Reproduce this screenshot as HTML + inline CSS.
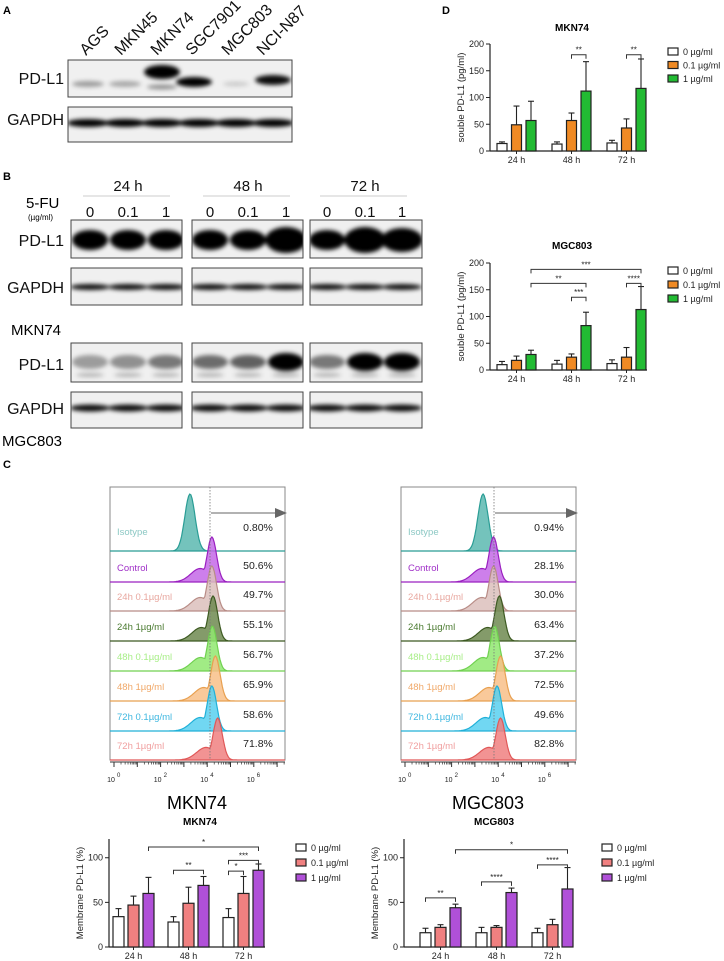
<!DOCTYPE html>
<html><head><meta charset="utf-8">
<style>
html,body{margin:0;padding:0;background:#fff;}
svg{display:block;font-family:"Liberation Sans",Arial,sans-serif;}
</style></head>
<body>
<svg id="fig" width="724" height="961" viewBox="0 0 724 961" xmlns="http://www.w3.org/2000/svg">
<defs>
<filter id="blur" x="-50%" y="-200%" width="200%" height="500%"><feGaussianBlur stdDeviation="2"/></filter>
</defs>
<rect width="724" height="961" fill="#fff"/>
<text x="3" y="14" font-size="11" font-weight="bold">A</text>
<text x="3" y="180" font-size="11" font-weight="bold">B</text>
<text x="3" y="468" font-size="11" font-weight="bold">C</text>
<text x="442" y="14" font-size="11" font-weight="bold">D</text>
<g font-size="16" fill="#111">
<text transform="translate(86,56) rotate(-45)">AGS</text>
<text transform="translate(121,56) rotate(-45)">MKN45</text>
<text transform="translate(157,56) rotate(-45)">MKN74</text>
<text transform="translate(192,56) rotate(-45)">SGC7901</text>
<text transform="translate(228,56) rotate(-45)">MGC803</text>
<text transform="translate(263,56) rotate(-45)">NCI-N87</text>
</g>
<g font-size="16" fill="#111" text-anchor="end">
<text x="64" y="84">PD-L1</text>
<text x="64" y="125">GAPDH</text>
<text x="64" y="246">PD-L1</text>
<text x="64" y="293">GAPDH</text>
<text x="64" y="370">PD-L1</text>
<text x="64" y="414">GAPDH</text>
</g>
<text x="11" y="335" font-size="15">MKN74</text>
<text x="2" y="446" font-size="15">MGC803</text>
<text x="26" y="208" font-size="15">5-FU</text>
<text x="28" y="220" font-size="8">(µg/ml)</text>
<g font-size="15" text-anchor="middle" fill="#111">
<text x="128" y="191">24 h</text><text x="248" y="191">48 h</text><text x="365" y="191">72 h</text>
</g>
<g stroke="#bbb" stroke-width="0.8">
<line x1="83" y1="196" x2="170" y2="196"/><line x1="203" y1="196" x2="290" y2="196"/><line x1="320" y1="196" x2="407" y2="196"/>
</g>
<g font-size="15" text-anchor="middle" fill="#111">
<text x="90" y="217">0</text><text x="128" y="217">0.1</text><text x="166" y="217">1</text>
<text x="210" y="217">0</text><text x="248" y="217">0.1</text><text x="286" y="217">1</text>
<text x="327" y="217">0</text><text x="365" y="217">0.1</text><text x="402" y="217">1</text>
</g>
<text x="197" y="809" font-size="18" text-anchor="middle">MKN74</text>
<text x="488" y="809" font-size="18" text-anchor="middle">MGC803</text>
</svg>
<script>
// ===== Chart data =====
const timeCats=['24 h','48 h','72 h'];
const doseLegend=['0 µg/ml','0.1 µg/ml','1 µg/ml'];
// Panel D soluble PD-L1 (pg/ml)
const mknSol0=[14,13,15], mknSol01=[49,57,43], mknSol1=[57,112,117];
const mknSolErr0=[3,4,5], mknSolErr01=[35,14,17], mknSolErr1=[36,55,55];
const mgcSol0=[10,11,12], mgcSol01=[18,24,24], mgcSol1=[29,83,113];
const mgcSolErr0=[6,7,7], mgcSolErr01=[8,6,18], mgcSolErr1=[8,25,43];
const solTicks=[0,50,100,150,200];
// Membrane PD-L1 (%)
const mknMem0=[34,28,33], mknMem01=[47,49,60], mknMem1=[60,69,86];
const mknMemErr0=[9,6,10], mknMemErr01=[10,18,19], mknMemErr1=[18,10,7];
const mgcMem0=[16,16,16], mgcMem01=[22,22,25], mgcMem1=[44,61,65];
const mgcMemErr0=[5,6,5], mgcMemErr01=[3,2,6], mgcMemErr1=[4,5,24];
const memTicks=[0,50,100];
// Flow cytometry
const flowLabels=['Isotype','Control','24h  0.1µg/ml','24h  1µg/ml','48h  0.1µg/ml','48h  1µg/ml','72h  0.1µg/ml','72h  1µg/ml'];
const mknPeaks=[3.26,4.2,4.2,4.25,4.22,4.35,4.2,4.45];
const mgcPeaks=[3.35,3.8,3.8,4.05,3.85,4.1,3.95,4.1];
const mknPct=['0.80%','50.6%','49.7%','55.1%','56.7%','65.9%','58.6%','71.8%'];
const mgcPct=['0.94%','28.1%','30.0%','63.4%','37.2%','72.5%','49.6%','82.8%'];

const NS='http://www.w3.org/2000/svg';
const svg=document.getElementById('fig');
function mk(tag,attrs,parent){const e=document.createElementNS(NS,tag);for(const k in attrs)e.setAttribute(k,attrs[k]);(parent||svg).appendChild(e);return e;}

// ===== Western blots =====
function blot(x,y,w,h,bands,name){
  const g=mk('g',{});
  
  
  const cid='c'+name;
  const cp=mk('clipPath',{id:cid},g);mk('rect',{x:x,y:y,width:w,height:h},cp);
  mk('rect',{x:x,y:y,width:w,height:h,fill:'#f0f0f0'},g);
  const bg=mk('g',{'clip-path':'url(#'+cid+')'},g);
  const inner=mk('g',{filter:'url(#blur)'},bg);
  bands.forEach(b=>{mk('ellipse',{cx:b[0],cy:b[1],rx:b[2],ry:b[3],fill:'#000','fill-opacity':b[4]},inner);});
  mk('rect',{x:x,y:y,width:w,height:h,fill:'none',stroke:'#444','stroke-width':1},g);
}
const LA=[88,125,162,199,236,273];
blot(68,60,224,37,[[88,84,16,3,0.35],[125,84,16,3,0.3],[162,72,18,7,1],[162,87,15,2.5,0.4],[194,82,18,5,1],[236,84,13,2.5,0.15],[273,80,18,5,0.95]],'blot-a-pdl1');
blot(68,107,224,35,LA.map(c=>[c,123,21,4,1]),'blot-a-gapdh');
const LB=[[90,128,166],[210,248,286],[327,365,402]];
const BX=[[71,111],[192,111],[310,112]];
const mkPd=[[1,1,1],[1,1,1.3],[1,1.3,1.2]];
const mgPd=[[0.35,0.4,0.5],[0.55,0.6,1],[0.5,1,1]];
for(let i=0;i<3;i++){
  blot(BX[i][0],220,BX[i][1],38,LB[i].map((c,j)=>[c,240,18*Math.min(mkPd[i][j],1.15),10*mkPd[i][j],1]),'blot-mkn74-pdl1-'+(i+1));
  blot(BX[i][0],268,BX[i][1],37,LB[i].map(c=>[c,287,20,3,0.95]),'blot-mkn74-gapdh-'+(i+1));
  const bands=[];LB[i].forEach((c,j)=>{bands.push([c,362,18,mgPd[i][j]>0.9?9:7,mgPd[i][j]]);bands.push([c,375,14,2,0.25]);});
  blot(BX[i][0],343,BX[i][1],39,bands,'blot-mgc803-pdl1-'+(i+1));
  blot(BX[i][0],392,BX[i][1],36,LB[i].map(c=>[c,408,20,3.5,0.95]),'blot-mgc803-gapdh-'+(i+1));
}

// ===== Bar charts =====
function barChart(o){
  const g=mk('g',{});
  
  
  const yv=v=>o.y0-(v/o.ymax)*(o.y0-o.yTop);
  const xb=(gi,si)=>o.gx+gi*o.gStep+si*o.bStep;
  const t=mk('text',{x:o.titleX,y:o.titleY,'font-size':10,'font-weight':'bold','text-anchor':'middle'},g);t.textContent=o.title;
  
  
  const ya=mk('line',{x1:o.x0,y1:o.yTop,x2:o.x0,y2:o.y0,stroke:'#222','stroke-width':1.2},g);
  
  
  o.ticks.forEach(v=>{
    mk('line',{x1:o.x0-4,y1:yv(v),x2:o.x0,y2:yv(v),stroke:'#222','stroke-width':1},g);
    const tl=mk('text',{x:o.x0-6,y:yv(v)+3,'font-size':9,'text-anchor':'end',fill:'#222'},g);tl.textContent=v;
    
    
  });
  const yt=mk('text',{transform:`translate(${o.ytX},${(o.yTop+o.y0)/2}) rotate(-90)`,'font-size':9.5,'text-anchor':'middle',fill:'#222'},g);yt.textContent=o.yTitle;
  
  
  const xa=mk('line',{x1:o.x0,y1:o.y0,x2:o.xEnd,y2:o.y0,stroke:'#222','stroke-width':1.2},g);
  
  
  timeCats.forEach((c,gi)=>{
    const cx=xb(gi,1)+o.bw/2;
    mk('line',{x1:cx,y1:o.y0,x2:cx,y2:o.y0+3,stroke:'#222'},g);
    const xl=mk('text',{x:cx,y:o.y0+12,'font-size':9,'text-anchor':'middle',fill:'#222'},g);xl.textContent=c;
    
    
  });
  o.series.forEach((s,si)=>{
    s.forEach((v,gi)=>{
      const x=xb(gi,si), e=o.errs[si][gi];
      const cx=x+o.bw/2;
      const el=mk('line',{x1:cx,y1:yv(v),x2:cx,y2:yv(v+e),stroke:'#222','stroke-width':1.1},g);
      
      
      mk('line',{x1:cx-3,y1:yv(v+e),x2:cx+3,y2:yv(v+e),stroke:'#222','stroke-width':1.1},g);
      const r=mk('rect',{x:x,y:yv(v),width:o.bw,height:o.y0-yv(v),fill:o.colors[si],stroke:'#222','stroke-width':1.2},g);
      
      
    });
  });
  o.brackets.forEach(b=>{
    const x1=xb(b[0],b[1])+o.bw/2, x2=xb(b[2],b[3])+o.bw/2, y=yv(b[4]);
    const p=mk('path',{d:`M${x1},${y+4}V${y}H${x2}V${y+4}`,fill:'none',stroke:'#333','stroke-width':1},g);
    
    
    const st=mk('text',{x:(x1+x2)/2,y:y-2,'font-size':8,'text-anchor':'middle',fill:'#222'},g);st.textContent=b[5];
    
    
  });
  doseLegend.forEach((l,i)=>{
    const y=o.legY+i*o.legStep;
    const sq=mk('rect',{x:o.legX,y:y-4,width:10,height:7,fill:o.colors[i],stroke:'#222','stroke-width':1.2},g);
    
    
    const lt=mk('text',{x:o.legX+15,y:y+3,'font-size':9,fill:'#222'},g);lt.textContent=l;
    
    
  });
}
const green=['#ffffff','#f08a24','#22bb33'];
barChart({name:'chart-soluble-mkn74',title:'MKN74',titleX:572,titleY:31,x0:490,y0:151,yTop:44,ymax:200,xEnd:647,ticks:solTicks,ytX:464,yTitle:'souble PD-L1 (pg/ml)',
  gx:497,gStep:55,bStep:14.5,bw:10,colors:green,series:[mknSol0,mknSol01,mknSol1],errs:[mknSolErr0,mknSolErr01,mknSolErr1],
  brackets:[[1,1,1,2,180,'**'],[2,1,2,2,180,'**']],legX:668,legY:52,legStep:13.5});
barChart({name:'chart-soluble-mgc803',title:'MGC803',titleX:572,titleY:249,x0:490,y0:370,yTop:263,ymax:200,xEnd:647,ticks:solTicks,ytX:464,yTitle:'souble PD-L1 (pg/ml)',
  gx:497,gStep:55,bStep:14.5,bw:10,colors:green,series:[mgcSol0,mgcSol01,mgcSol1],errs:[mgcSolErr0,mgcSolErr01,mgcSolErr1],
  brackets:[[1,1,1,2,136,'***'],[0,2,1,2,162,'**'],[2,1,2,2,162,'****'],[0,2,2,2,188,'***']],legX:668,legY:271,legStep:14});
const purple=['#ffffff','#f08080','#b050d8'];
barChart({name:'chart-membrane-mkn74',title:'MKN74',titleX:200,titleY:825,x0:109,y0:947,yTop:839,ymax:121,xEnd:265,ticks:memTicks,ytX:83,yTitle:'Membrane PD-L1 (%)',
  gx:113,gStep:55,bStep:15,bw:11,colors:purple,series:[mknMem0,mknMem01,mknMem1],errs:[mknMemErr0,mknMemErr01,mknMemErr1],
  brackets:[[0,2,2,2,112,'*'],[1,0,1,2,86,'**'],[2,0,2,1,85,'*'],[2,0,2,2,97,'***']],legX:296,legY:848,legStep:15});
barChart({name:'chart-membrane-mgc803',title:'MCG803',titleX:494,titleY:825,x0:404,y0:947,yTop:839,ymax:121,xEnd:560,ticks:memTicks,ytX:378,yTitle:'Membrane PD-L1 (%)',
  gx:420,gStep:56,bStep:15,bw:11,colors:purple,series:[mgcMem0,mgcMem01,mgcMem1],errs:[mgcMemErr0,mgcMemErr01,mgcMemErr1],
  brackets:[[0,0,0,2,55,'**'],[1,0,1,2,73,'****'],[2,0,2,2,92,'****'],[0,2,2,2,109,'*']],legX:602,legY:848,legStep:15});

// ===== Flow histograms =====
const flowLine=['#2a9d95','#9a20c0','#b88c86','#3d5a22','#70d050','#e8a050','#20b0d8','#e05858'];
const flowFill=['#5cb8b0','#c468e8','#dcc0bc','#6e8a50','#90e870','#f8c088','#58d0f0','#f08080'];
const flowText=['#8cc8c4','#a030c8','#e8a8a0','#4a7a30','#a8ee88','#f0a868','#40b8e0','#f0a0a0'];
function flow(bx,peaks,pcts,vline,name){
  const g=mk('g',{});
  
  
  const W=175, top=487, bases=[551,582,611,641,671,701,731,760];
  const dx=d=>bx+4+d*23.3;
  mk('rect',{x:bx,y:top,width:W,height:760-top,fill:'#fff',stroke:'#888','stroke-width':1},g);
  peaks.forEach((p,i)=>{
    const base=bases[i], h=i==0?57:(i==7?42:45), s=i==0?0.22:0.2;
    let d=`M${bx},${base}`;
    for(let t=0;t<=7.3;t+=0.05){
      const main=Math.exp(-Math.pow((t-p)/s,2)/2), sh=0.3*Math.exp(-Math.pow((t-p+0.5)/0.4,2)/2);
      const v=i==0?main:Math.max(main,sh);
      d+=`L${dx(t).toFixed(1)},${(base-h*v).toFixed(1)}`;
    }
    d+=`L${bx+W},${base}Z`;
    const path=mk('path',{d:d,fill:flowFill[i],'fill-opacity':0.85,stroke:flowLine[i],'stroke-width':1.2},g);
    
    
    mk('line',{x1:bx,y1:base,x2:bx+W,y2:base,stroke:flowLine[i],'stroke-width':0.8},g);
    const lt=mk('text',{x:bx+7,y:base-(i==0?16:11),'font-size':9.5,fill:flowText[i]},g);lt.textContent=flowLabels[i];
    
    
    const pt=mk('text',{x:bx+148,y:base-(i==0?20:13),'font-size':10.5,'text-anchor':'middle',fill:'#222'},g);pt.textContent=pcts[i];
    
    
  });
  const vl=mk('line',{x1:vline,y1:top,x2:vline,y2:760,stroke:'#777','stroke-width':0.8,'stroke-dasharray':'1.5,1.5'},g);
  
  
  const ar=mk('line',{x1:vline+1,y1:513,x2:bx+W-8,y2:513,stroke:'#666','stroke-width':1},g);
  
  
  mk('path',{d:`M${bx+W-10},508L${bx+W+2},513L${bx+W-10},518Z`,fill:'#666'},g);
  mk('line',{x1:bx,y1:762,x2:bx+W,y2:762,stroke:'#333','stroke-width':1},g);
  for(let d=0;d<7.3;d++){
    mk('line',{x1:dx(d),y1:762,x2:dx(d),y2:767,stroke:'#333'},g);
    for(let m=2;m<10;m++){const xm=dx(d+Math.log10(m));if(xm<bx+W)mk('line',{x1:xm,y1:762,x2:xm,y2:764.5,stroke:'#333','stroke-width':0.7},g);}
  }
  [0,2,4,6].forEach(d=>{
    const tx=mk('text',{x:dx(d)-3,y:782,'font-size':7,'text-anchor':'middle',fill:'#222'},g);tx.textContent='10';
    
    
    const sp=mk('text',{x:dx(d)+3,y:777,'font-size':6,fill:'#222'},g);sp.textContent=d;
  });
}
flow(110,mknPeaks,mknPct,210,'flow-mkn74');
flow(401,mgcPeaks,mgcPct,494,'flow-mgc803');
</script>
</body></html>
